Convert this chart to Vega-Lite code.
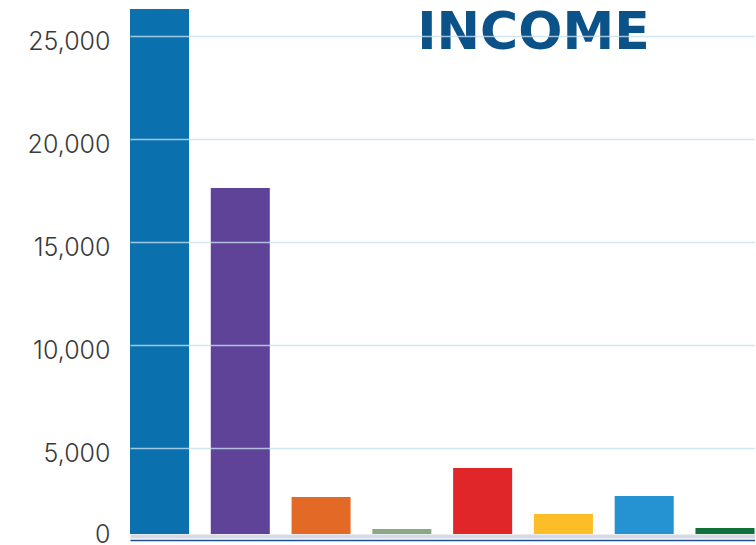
{
  "$schema": "https://vega.github.io/schema/vega-lite/v6.json",
  "width": 642,
  "height": 540,
  "autosize": {"type": "none"},
  "padding": {"left": 114, "top": 0, "right": 0, "bottom": 5},
  "background": "white",
  "title": {
    "text": "INCOME",
    "font": "DejaVu Sans",
    "fontSize": 52,
    "fontWeight": "bold",
    "color": "#0b5289",
    "anchor": "start",
    "frame": "group",
    "align": "center",
    "dx": 419.5,
    "orient": "none",
    "offset": 0,
    "baseline": "alphabetic",
    "dy": 49
  },
  "data": {
    "values": [
      {"category": "Item 1", "income": 26311},
      {"category": "Item 2", "income": 17621},
      {"category": "Item 3", "income": 2621},
      {"category": "Item 4", "income": 1068},
      {"category": "Item 5", "income": 4029},
      {"category": "Item 6", "income": 1796},
      {"category": "Item 7", "income": 2670},
      {"category": "Item 8", "income": 1117}
    ]
  },
  "mark": {"type": "bar", "clip": true},
  "encoding": {
    "x": {
      "field": "category",
      "type": "nominal",
      "sort": null,
      "scale": {"range": [16, 640.5], "paddingInner": 0.2694, "paddingOuter": 0},
      "axis": {"title": null, "labels": false, "ticks": false, "domain": true, "domainColor": "#1d4f8a", "domainWidth": 1.5, "zindex": 1}
    },
    "y": {
      "field": "income",
      "type": "quantitative",
      "scale": {"domain": [534, 26748], "zero": false, "nice": false},
      "axis": {
        "title": null,
        "values": [728, 5000, 10000, 15000, 20000, 25000],
        "labelExpr": "datum.value < 1000 ? '0' : format(datum.value, ',')",
        "domain": false,
        "ticks": false,
        "labelPadding": 4,
        "labelFont": "Inter",
        "labelFontSize": 25,
        "labelFontWeight": 300,
        "labelColor": "#3a3a3a",
        "labelOffset": {"condition": {"test": "datum.value < 1000", "value": -2}, "value": 5},
        "gridColor": {"condition": {"test": "datum.value < 1000", "value": "#cfd3e2"}, "value": "#c6e0f0"},
        "gridWidth": {"condition": {"test": "datum.value < 1000", "value": 4}, "value": 1.5},
        "gridOpacity": {"condition": {"test": "datum.value < 1000", "value": 0.85}, "value": 0.8},
        "zindex": 1
      }
    },
    "y2": {"datum": 825},
    "color": {
      "field": "category",
      "type": "nominal",
      "scale": {
        "domain": ["Item 1", "Item 2", "Item 3", "Item 4", "Item 5", "Item 6", "Item 7", "Item 8"],
        "range": ["#0b71ae", "#5f4399", "#e36a26", "#8aa887", "#e02628", "#fdbd27", "#2592d2", "#0f703a"]
      },
      "legend": null
    }
  },
  "config": {"view": {"stroke": null}}
}
